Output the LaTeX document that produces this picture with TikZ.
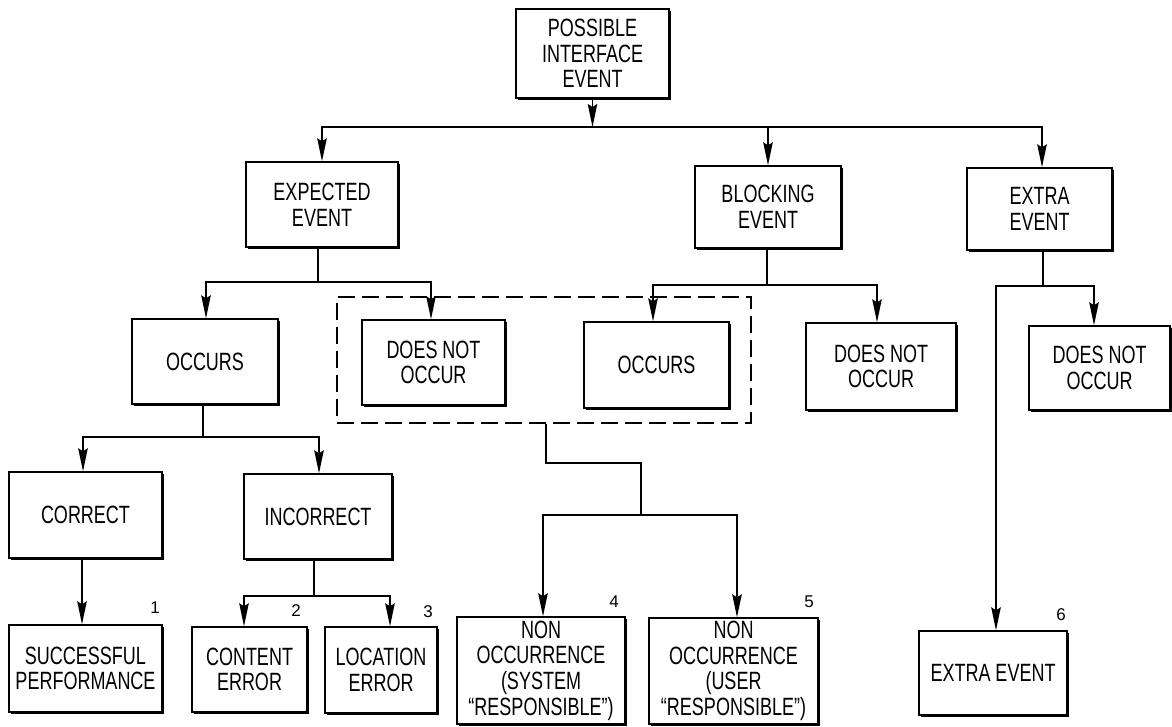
\documentclass[tikz,border=0pt]{standalone}
\usepackage{fontspec}
\setmainfont{Liberation Sans}
\newfontfamily\boxfont{Liberation Sans}[FakeStretch=0.72]
\usetikzlibrary{arrows.meta,shadows}

\tikzset{
  evbox/.style={draw, line width=1.4pt, fill=white, inner sep=0pt, align=center,
    font=\boxfont\fontsize{25}{25.6}\selectfont,
    general shadow={fill=black, shadow xshift=1.6pt, shadow yshift=-1.6pt}},
  link/.style={line width=1.5pt},
  arr/.style={link, -{Stealth[length=23pt,width=9.5pt,inset=3pt]}},
  grpbox/.style={draw, dash pattern=on 17pt off 7pt, line width=1.4pt, inner sep=0pt},
  tag/.style={font=\fontsize{17}{17}\selectfont, inner sep=0pt},
}

\begin{document}
\begin{tikzpicture}[x=1pt, y=-1pt]
\useasboundingbox (0,0) rectangle (1172,726);

% dashed grouping frame (drawn first, boxes sit on top)
\node[grpbox, minimum width=414pt, minimum height=126pt] (grp) at (544,360) {};

% level 0
\node[evbox, minimum width=153pt, minimum height=89pt] (P) at (592.5,53.5) {POSSIBLE\\INTERFACE\\EVENT};

% level 1
\node[evbox, minimum width=152pt, minimum height=85pt] (EXP) at (322,204.5) {EXPECTED\\EVENT};
\node[evbox, minimum width=146pt, minimum height=82pt] (BLK) at (768,207) {BLOCKING\\EVENT};
\node[evbox, minimum width=145pt, minimum height=82pt] (EXT) at (1039.5,209) {EXTRA\\EVENT};

% level 2
\node[evbox, minimum width=146pt, minimum height=85pt] (O1) at (205,361.5) {OCCURS};
\node[evbox, minimum width=143pt, minimum height=85pt] (D1) at (433.5,362.5) {DOES NOT\\OCCUR};
\node[evbox, minimum width=145pt, minimum height=86pt] (O2) at (656.5,365) {OCCURS};
\node[evbox, minimum width=150pt, minimum height=87pt] (D2) at (881,366.5) {DOES NOT\\OCCUR};
\node[evbox, minimum width=141pt, minimum height=84pt] (D3) at (1099.5,368) {DOES NOT\\OCCUR};

% level 3
\node[evbox, minimum width=153pt, minimum height=86pt] (COR) at (85.5,515) {CORRECT};
\node[evbox, minimum width=148pt, minimum height=85pt] (INC) at (318,516.5) {INCORRECT};

% outcomes
\node[evbox, minimum width=153pt, minimum height=87pt] (SUC) at (85.5,668.5) {SUCCESSFUL\\PERFORMANCE};
\node[evbox, minimum width=115pt, minimum height=85pt] (CON) at (249.5,669.5) {CONTENT\\ERROR};
\node[evbox, minimum width=112pt, minimum height=86pt] (LOC) at (381,670) {LOCATION\\ERROR};
\node[evbox, minimum width=168pt, minimum height=107pt] (NON1) at (541,670.5) {NON\\OCCURRENCE\\(SYSTEM\\“RESPONSIBLE”)};
\node[evbox, minimum width=169pt, minimum height=106pt] (NON2) at (733.5,671) {NON\\OCCURRENCE\\(USER\\“RESPONSIBLE”)};
\node[evbox, minimum width=148pt, minimum height=84pt] (X2) at (993,673) {EXTRA EVENT};

% outcome numbers
\node[tag] (n1) at (155,608) {1};
\node[tag] (n2) at (296,611) {2};
\node[tag] (n3) at (428,612) {3};
\node[tag] (n4) at (614,602) {4};
\node[tag] (n5) at (809,602) {5};
\node[tag] (n6) at (1061,615) {6};

% junction rails
\coordinate (bus0) at (591,127);
\coordinate (busE) at (318,282);
\coordinate (busB) at (767,285);
\coordinate (busX) at (1043,286);
\coordinate (busO) at (203,437);
\coordinate (busI) at (314,596);
\coordinate (knee) at (641,463);
\coordinate (fork) at (641,515);

% top level split
\draw[arr] (P.south) -- (P.south |- bus0);
\draw[arr] (P.south |- bus0) -| (EXP.north);
\draw[arr] (P.south |- bus0) -| ([xshift=2.5pt]EXT.north);
\draw[arr] (BLK.north |- bus0) -- (BLK.north);

% expected event
\draw[link] ([xshift=-4pt]EXP.south) -- (busE);
\draw[arr] (busE) -| ([xshift=1pt]O1.north);
\draw[arr] (busE) -| ([xshift=-2.5pt]D1.north);

% blocking event
\draw[link] ([xshift=-1pt]BLK.south) -- (busB);
\draw[arr] (busB) -| ([xshift=-3.5pt]O2.north);
\draw[arr] (busB) -| ([xshift=-4pt]D2.north);

% extra event
\draw[link] ([xshift=3.5pt]EXT.south) -- (busX);
\draw[arr] (busX) -| ([xshift=-5.5pt]D3.north);
\draw[arr] (busX) -| ([xshift=3pt]X2.north);

% occurs -> correct / incorrect
\draw[link] ([xshift=-2pt]O1.south) -- (busO);
\draw[arr] (busO) -| ([xshift=-2.5pt]COR.north);
\draw[arr] (busO) -| ([xshift=1pt]INC.north);

% correct -> successful performance
\draw[arr] ([xshift=-3.5pt]COR.south) -- ([xshift=-3.5pt]SUC.north);

% incorrect -> errors
\draw[link] ([xshift=-4pt]INC.south) -- (busI);
\draw[arr] (busI) -| ([xshift=-5.5pt]CON.north);
\draw[arr] (busI) -| ([xshift=9pt]LOC.north);

% grouped outcomes -> non occurrence
\draw[link] ([xshift=2pt]grp.south) |- (knee) -- (fork);
\draw[arr] (fork) -| ([xshift=2pt]NON1.north);
\draw[arr] (fork) -| ([xshift=3.5pt]NON2.north);
\end{tikzpicture}
\end{document}
